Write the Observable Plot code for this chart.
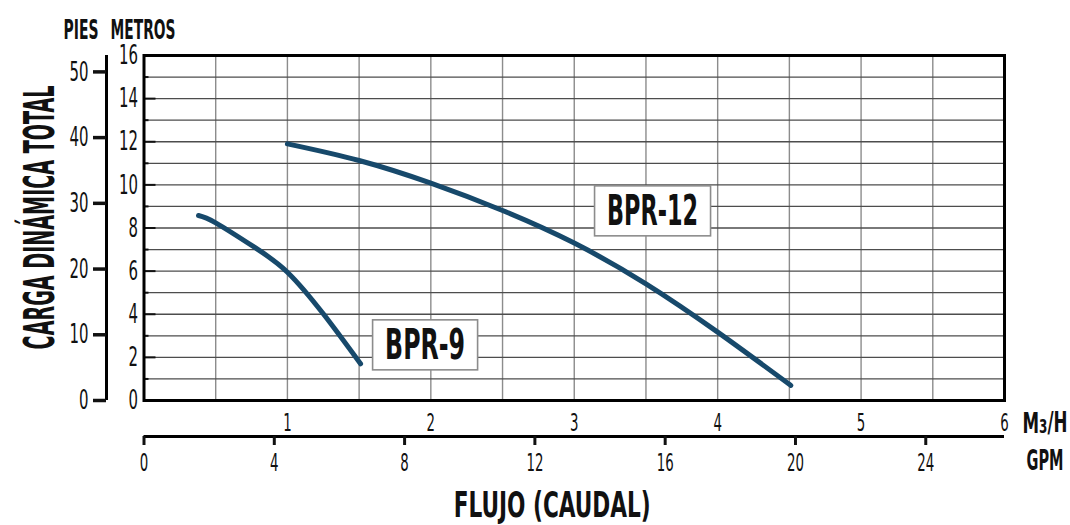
<!DOCTYPE html>
<html><head><meta charset="utf-8">
<script src="https://cdn.jsdelivr.net/npm/d3@7"></script>
<script src="https://cdn.jsdelivr.net/npm/@observablehq/plot@0.6"></script>
<style>html,body{margin:0;padding:0;background:#fff;}</style>
</head><body><div id="chart"></div>
<script>
// ---- data (flow in m³/h, head in metres) ----
const bpr9Flow  = [0.38, 0.50, 0.77, 1.00, 1.25, 1.51];
const bpr9Head  = [8.58, 8.24, 7.11, 5.95, 4.02, 1.70];
const bpr12Flow = [1.00, 1.50, 2.00, 2.50, 3.00, 3.50, 4.00, 4.51];
const bpr12Head = [11.90, 11.13, 10.08, 8.81, 7.30, 5.41, 3.17, 0.70];
const seriesNames = ["BPR-9", "BPR-12"];
const labelFlow = [1.96, 3.546];
const labelHead = [2.555, 8.77];
const m3hTicks = [1, 2, 3, 4, 5, 6];
const gpmTicks = [0, 4, 8, 12, 16, 20, 24];
const metrosTicks = [0, 2, 4, 6, 8, 10, 12, 14, 16];
const piesTicks = [0, 10, 20, 30, 40, 50];
const yTitle = "CARGA DINÁMICA TOTAL";
const xTitle = "FLUJO (CAUDAL)";
const unitLeft = "PIES";
const unitRight = "METROS";
const unitM3H = "M3/H";
const unitGPM = "GPM";
const GPM_PER_M3H = 4.402868;
const M_PER_FT = 0.3048;

// ---- tables ----
const bpr9 = bpr9Flow.map((q, i) => ({q, h: bpr9Head[i]}));
const bpr12 = bpr12Flow.map((q, i) => ({q, h: bpr12Head[i]}));
const labels = seriesNames.map((name, i) => ({name, q: labelFlow[i], h: labelHead[i]}));

const FONT = "'Liberation Sans Narrow','DejaVu Sans Condensed','Arial Narrow',sans-serif";
const CURVE = "#17496b";

const plot = Plot.plot({
  width: 1070, height: 525,
  marginLeft: 143.5, marginRight: 66, marginTop: 55, marginBottom: 125,
  x: {domain: [0, 6]},
  y: {domain: [0, 16]},
  style: {fontFamily: FONT, background: "#fff", color: "#111", fontSize: "24px"},
  marks: [
    Plot.ruleX(d3.range(0.5, 6, 0.5), {stroke: "#8c8c8c", strokeWidth: 1.4}),
    Plot.ruleY(d3.range(1, 16), {stroke: "#4d4d4d", strokeWidth: 1.3}),
    // inner metre ticks
    Plot.axisY(d3.range(2, 16, 2), {anchor: "left", tickSize: -12, tickFormat: () => "", strokeWidth: 2, label: null}),
    Plot.axisY(d3.range(1, 16, 2), {anchor: "left", tickSize: -5, tickFormat: () => "", strokeWidth: 2, label: null}),
    Plot.frame({stroke: "#000", strokeWidth: 3}),
    // metres axis labels
    Plot.axisY(metrosTicks, {anchor: "left", tickSize: 0, tickPadding: 6, tickFormat: d => String(d), label: null}),
    // feet axis
    Plot.ruleX([0], {dx: -37.5, strokeWidth: 3, stroke: "#000"}),
    Plot.axisY(piesTicks.map(f => f * M_PER_FT), {anchor: "left", tickSize: 13, tickPadding: 5, dx: -37.5,
      strokeWidth: 3.5, tickFormat: d => String(Math.round(d / M_PER_FT)), label: null}),
    // m3/h axis labels
    Plot.axisX(m3hTicks, {anchor: "bottom", tickSize: 0, tickPadding: 13, tickFormat: d => String(d), label: null}),
    // GPM axis
    Plot.ruleY([0], {dy: 36, strokeWidth: 3, stroke: "#000"}),
    Plot.axisX(gpmTicks.map(g => g / GPM_PER_M3H), {anchor: "bottom", tickSize: 9, tickPadding: 8, dy: 36,
      strokeWidth: 3, tickFormat: d => String(Math.round(d * GPM_PER_M3H)), label: null}),
    // curves
    Plot.line(bpr9, {x: "q", y: "h", curve: "natural", stroke: CURVE, strokeWidth: 5}),
    Plot.line(bpr12, {x: "q", y: "h", curve: "natural", stroke: CURVE, strokeWidth: 5}),
    // series labels
    Plot.text(labels, {x: "q", y: "h", text: "name", fontSize: 42, fontWeight: "bold", textAnchor: "middle", lineAnchor: "middle", fill: "#111"}),
    // titles
    Plot.text([yTitle], {text: d => d, frameAnchor: "left", rotate: -90, dx: -90.5, dy: -10.5, lineAnchor: "bottom",
      textAnchor: "middle", fontSize: 42, fontWeight: "bold", fill: "#111"}),
    Plot.text([xTitle], {text: d => d, frameAnchor: "bottom", dx: -22, dy: 116, lineAnchor: "bottom",
      textAnchor: "middle", fontSize: 36, fontWeight: "bold", fill: "#111"}),
    Plot.text([unitLeft], {text: d => d, frameAnchor: "top-left", dx: -63, dy: -17, lineAnchor: "bottom",
      textAnchor: "middle", fontSize: 26, fontWeight: "bold", fill: "#111"}),
    Plot.text([unitRight], {text: d => d, frameAnchor: "top-left", dx: -1, dy: -17, lineAnchor: "bottom",
      textAnchor: "middle", fontSize: 26, fontWeight: "bold", fill: "#111"}),
    Plot.text([unitM3H], {text: d => d, frameAnchor: "bottom-right", dx: 40.5, dy: 32, lineAnchor: "bottom",
      textAnchor: "middle", fontSize: 28, fontWeight: "bold", fill: "#111"}),
    Plot.text([unitGPM], {text: d => d, frameAnchor: "bottom-right", dx: 40.5, dy: 69, lineAnchor: "bottom",
      textAnchor: "middle", fontSize: 28, fontWeight: "bold", fill: "#111"})
  ]
});

document.getElementById("chart").append(plot);

// ---- condensed typography (text widths as in the reference) ----
const targetWidths = {};
targetWidths[yTitle] = 264;
targetWidths[xTitle] = 197;
targetWidths[unitLeft] = 35;
targetWidths[unitRight] = 65;
targetWidths[unitM3H] = 45;
targetWidths[unitGPM] = 37;
targetWidths[seriesNames[0]] = 80;
targetWidths[seriesNames[1]] = 91;
const tickFont = {y: {size: "27px", digit: 9.5}, x: {size: "25px", digit: 8.5}};

const svg = d3.select(plot);
const SVGNS = "http://www.w3.org/2000/svg";
svg.selectAll("text").each(function() {
  const t = this.textContent;
  if (t === unitM3H) {
    this.textContent = "";
    d3.select(this).append("tspan").text("M");
    d3.select(this).append("tspan").attr("font-size", "0.72em").attr("dy", "0.04em").text("3");
    d3.select(this).append("tspan").attr("dy", "-0.03em").text("/H");
  }
  let sx;
  if (t in targetWidths) sx = targetWidths[t] / this.getComputedTextLength();
  else if (/^\d+$/.test(t)) {
    const group = (this.parentNode.getAttribute("aria-label") || "").startsWith("y") ? tickFont.y : tickFont.x;
    this.style.fontSize = group.size;
    sx = (t.length * group.digit) / this.getComputedTextLength();
  }
  else return;
  const tr = this.getAttribute("transform") || "";
  if (seriesNames.includes(t)) {
    // white box with grey border behind the series label
    const b = this.getBBox();
    const r = document.createElementNS(SVGNS, "rect");
    r.setAttribute("x", b.x * sx - 12.5);
    r.setAttribute("y", b.y);
    r.setAttribute("width", b.width * sx + 25);
    r.setAttribute("height", b.height + 1);
    r.setAttribute("fill", "#fff");
    r.setAttribute("stroke", "#8c8c8c");
    r.setAttribute("stroke-width", 1.6);
    if (tr) r.setAttribute("transform", tr);
    this.parentNode.insertBefore(r, this);
  }
  this.setAttribute("transform", `${tr} scale(${sx},1)`);
});
</script>
</body></html>
